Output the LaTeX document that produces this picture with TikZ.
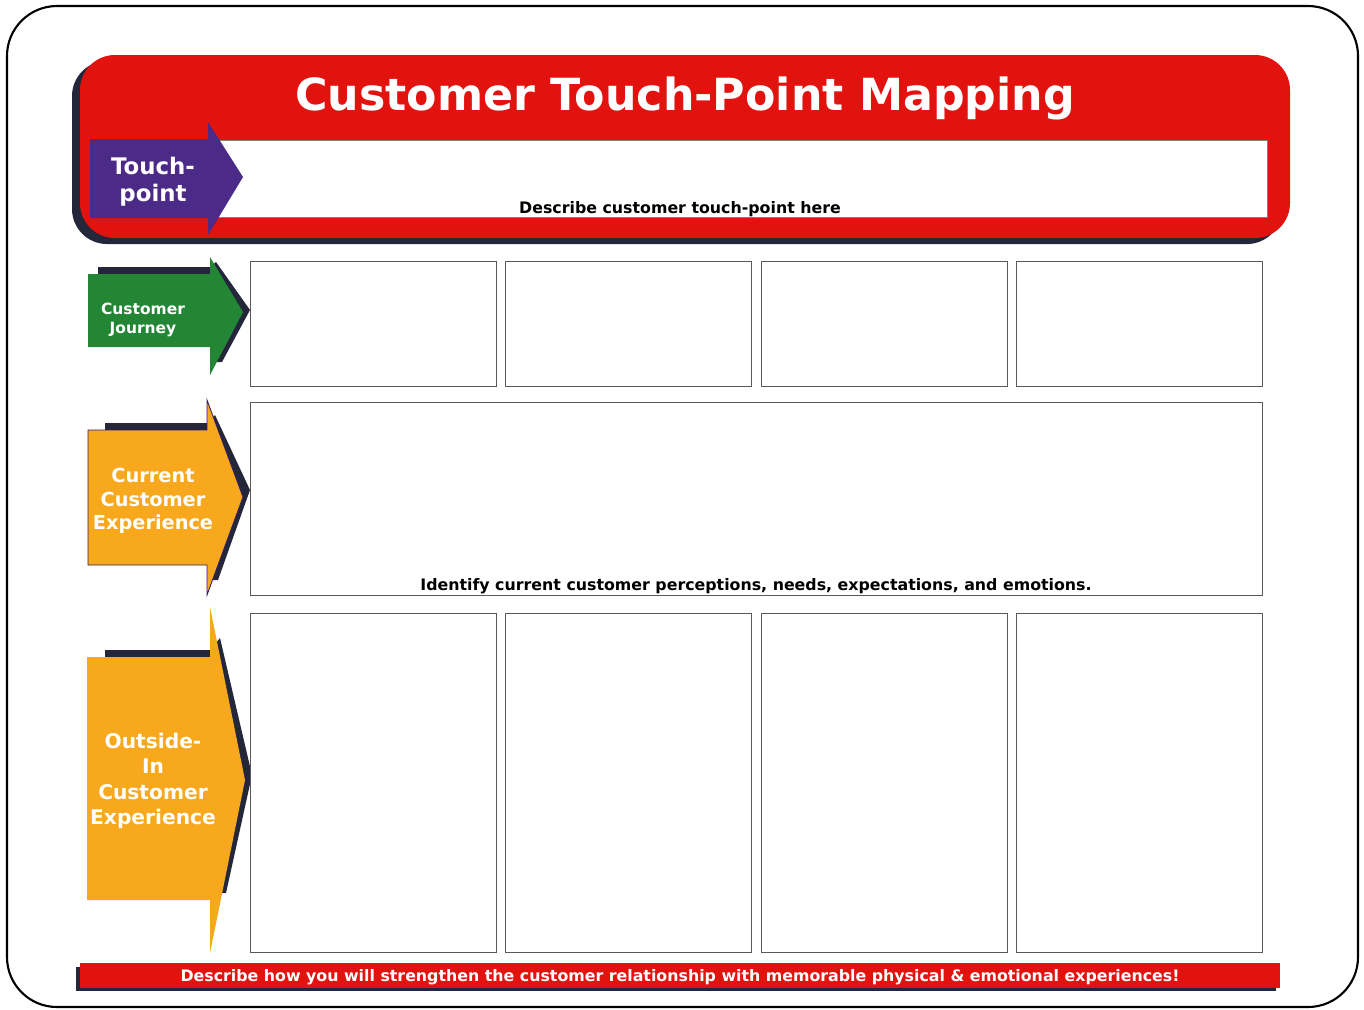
\documentclass[tikz,border=0pt]{standalone}
\usepackage{fontspec}
\setmainfont{DejaVu Sans}
\usepackage{xcolor}
\usepackage{tikz}
\usetikzlibrary{positioning,calc}

\definecolor{tpred}{RGB}{226,18,14}
\definecolor{tppurple}{RGB}{76,42,135}
\definecolor{tpgreen}{RGB}{34,134,52}
\definecolor{tporange}{RGB}{247,168,28}
\definecolor{tpshadow}{RGB}{36,38,58}

\begin{document}
\begin{tikzpicture}[x=0.02cm, y=-0.02cm,
    cell/.style={draw=black!65, line width=0.6pt, fill=white, inner sep=0pt, anchor=north west},
    arrowlabel/.style={text=white, font=\bfseries, align=center, inner sep=0pt},
    notetext/.style={font=\bfseries\fontsize{9}{10.5}\selectfont, anchor=base, inner sep=0pt}]
    \useasboundingbox (0,0) rectangle (1364,1009);

    % outer frame
    \draw[line width=1.2pt, rounded corners=1cm] (7,6) rectangle (1358,1007);

    % title banner
    \fill[tpshadow, rounded corners=0.7cm] (72,61) rectangle (1282,244);
    \fill[tpred, rounded corners=0.7cm] (80,55) rectangle (1290,238);
    \node[text=white, font=\bfseries\fontsize{25.2}{29}\selectfont, anchor=base] (title) at (685,110) {Customer Touch-Point Mapping};
    \draw[fill=white, draw=black!50, line width=0.4pt] (200,140) rectangle (1267,217);
    \node[notetext] (tpnote) at (680,213) {Describe customer touch-point here};

    % Touch-point
    \fill[tppurple] (90,139) -- (208,139) -- (208,122) -- (243,177) -- (208,235) -- (208,218) -- (90,218) -- cycle;
    \node[arrowlabel, font=\bfseries\fontsize{13}{15.5}\selectfont] (touch) at (153,182) {Touch-\\point};

    % Customer Journey
    \fill[tpshadow] (98,267) -- (210,267) -- (216,262) -- (250,310) -- (222,362) -- (214,362) -- (214,300) -- (98,300) -- cycle;
    \fill[tpgreen] (88,274) -- (210,274) -- (210,257) -- (243,312) -- (210,375) -- (210,347) -- (88,347) -- cycle;
    \node[arrowlabel, font=\bfseries\fontsize{8.8}{10.5}\selectfont] (journey) at (143,320) {Customer\\Journey};

    % Current Customer Experience
    \fill[tpshadow] (105,423) -- (207,423) -- (215,415) -- (250,490) -- (218,580) -- (210,580) -- (210,480) -- (105,480) -- cycle;
    \fill[tporange, draw=tppurple!70!black, line width=0.5pt] (88,430) -- (207,430) -- (207,400) -- (243,497) -- (207,595) -- (207,565) -- (88,565) -- cycle;
    \node[arrowlabel, font=\bfseries\fontsize{11}{13.4}\selectfont] (current) at (153,501) {Current\\Customer\\Experience};

    % Outside-In Customer Experience
    \fill[tpshadow] (105,650) -- (210,650) -- (220,638) -- (252,775) -- (226,893) -- (214,893) -- (214,700) -- (105,700) -- cycle;
    \fill[tporange] (87,657) -- (210,657) -- (210,607) -- (245,780) -- (210,953) -- (210,900) -- (87,900) -- cycle;
    \node[arrowlabel, font=\bfseries\fontsize{11.5}{14.4}\selectfont] (outside) at (153,781) {Outside-\\In\\Customer\\Experience};

    % journey and outside-in cells
    \foreach \i/\x in {1/250,2/505,3/761,4/1016} {
        \node[cell, minimum width=4.92cm, minimum height=2.5cm] (j\i) at (\x,261) {};
        \node[cell, minimum width=4.92cm, minimum height=6.78cm] (o\i) at (\x,613) {};
    }

    % current experience cell
    \node[cell, minimum width=20.24cm, minimum height=3.86cm] (cur) at (250,402) {};
    \node[notetext] (curnote) at (756,590) {Identify current customer perceptions, needs, expectations, and emotions.};

    % bottom bar
    \fill[tpshadow] (76,967) rectangle (1276,991);
    \fill[tpred] (80,963) rectangle (1280,988);
    \node[notetext, text=white] (bottom) at (680,981) {Describe how you will strengthen the customer relationship with memorable physical \& emotional experiences!};
\end{tikzpicture}
\end{document}
